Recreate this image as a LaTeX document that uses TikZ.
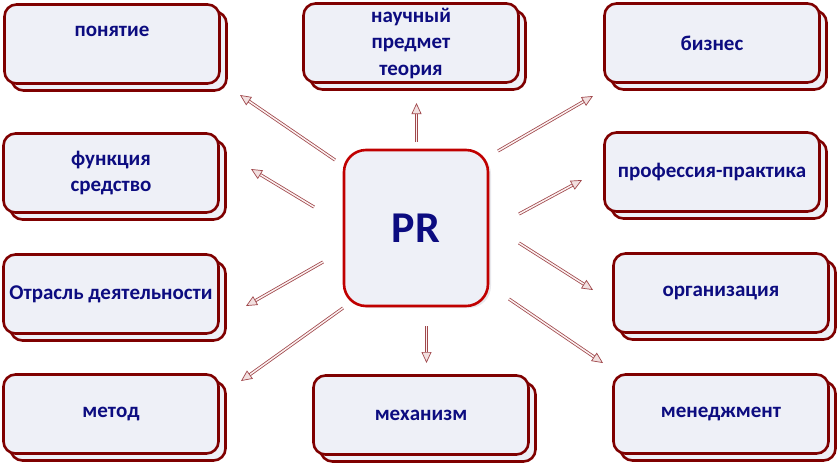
\documentclass[tikz,border=0pt]{standalone}
\usepackage{fontspec}
\setmainfont{Carlito}
\usetikzlibrary{arrows.meta,shadows}
\definecolor{boxmaroon}{HTML}{7F0000}
\definecolor{boxfill}{HTML}{EEF0F7}
\definecolor{textnavy}{HTML}{0C0C80}
\definecolor{prred}{HTML}{C00000}
\definecolor{arrowline}{HTML}{A0484C}
\definecolor{arrowinner}{HTML}{FBF1F1}
\definecolor{arrowhead}{HTML}{F2E0E0}

\begin{document}
\begin{tikzpicture}[
  x=1pt, y=-1pt,
  topic/.style={
    draw=boxmaroon,
    fill=boxfill,
    line width=2.6pt,
    rounded corners=12pt,
    minimum width=215pt,
    minimum height=79pt,
    align=center,
    text=textnavy,
    font=\bfseries\fontsize{21}{26.5}\selectfont,
    copy shadow={shadow xshift=7pt, shadow yshift=-7pt}
  },
  core/.style={
    draw=prred,
    fill=boxfill,
    line width=2.6pt,
    rounded corners=22pt,
    minimum width=144pt,
    minimum height=156pt,
    text=textnavy,
    font=\bfseries\fontsize{44}{50}\selectfont,
    drop shadow={shadow xshift=3pt, shadow yshift=-2pt, fill=boxfill!80!gray, opacity=0.6}
  },
  link/.style={
    draw=arrowline,
    line width=0.8pt,
    double=arrowinner,
    double distance=1.5pt,
    -{Triangle[length=11pt, width=10pt, fill=arrowhead, line width=0.7pt]}
  }
]
  \useasboundingbox (0,0) rectangle (840,464);

  % --- LEFT COLUMN ---
  \node[topic, text depth=26pt] (concept) at (112,44) {понятие};
  \node[topic] (function) at (111,173) {функция\\средство};
  \node[topic] (branch) at (111,294) {Отрасль деятельности};
  \node[topic] (method) at (111,414) {метод};

  % --- MIDDLE COLUMN ---
  \node[topic] (science) at (411,43) {научный\\предмет\\теория};
  \node[core] (pr) at (416,228) {PR};
  \node[topic] (mechanism) at (421,415) {механизм};

  % --- RIGHT COLUMN ---
  \node[topic] (business) at (712,43) {бизнес};
  \node[topic] (profession) at (712,172) {профессия-практика};
  \node[topic] (organisation) at (721,293) {организация};
  \node[topic] (management) at (721,414) {менеджмент};

  % Free ends of the arrows around PR
  \coordinate (concept-from) at (335,160);
  \coordinate (concept-to) at (240,95);
  \coordinate (function-from) at (314,207);
  \coordinate (function-to) at (251,169);
  \coordinate (branch-from) at (323,262);
  \coordinate (branch-to) at (246,306);
  \coordinate (method-from) at (343,308);
  \coordinate (method-to) at (241,381);
  \coordinate (science-from) at (416.5,142);
  \coordinate (science-to) at (416.5,103);
  \coordinate (mechanism-from) at (426.5,326);
  \coordinate (mechanism-to) at (426.5,363);
  \coordinate (business-from) at (498,151);
  \coordinate (business-to) at (593,96);
  \coordinate (profession-from) at (519,214);
  \coordinate (profession-to) at (582,180);
  \coordinate (organisation-from) at (519,243);
  \coordinate (organisation-to) at (593,290);
  \coordinate (management-from) at (509,299);
  \coordinate (management-to) at (603,363);

  % Arrows
  \draw[link] (concept-from) -- (concept-to);
  \draw[link] (function-from) -- (function-to);
  \draw[link] (branch-from) -- (branch-to);
  \draw[link] (method-from) -- (method-to);
  \draw[link] (science-from) -- (science-to);
  \draw[link] (mechanism-from) -- (mechanism-to);
  \draw[link] (business-from) -- (business-to);
  \draw[link] (profession-from) -- (profession-to);
  \draw[link] (organisation-from) -- (organisation-to);
  \draw[link] (management-from) -- (management-to);

\end{tikzpicture}
\end{document}
